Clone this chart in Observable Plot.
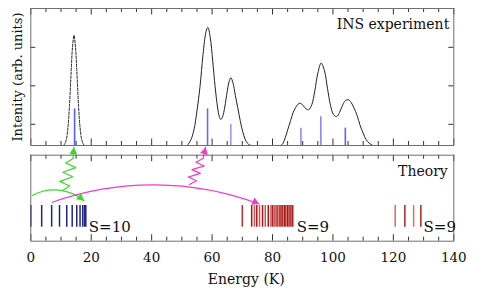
<!DOCTYPE html>
<html><head><meta charset="utf-8">
<script src="https://cdn.jsdelivr.net/npm/d3@7"></script>
<script src="https://cdn.jsdelivr.net/npm/@observablehq/plot@0.6"></script>
<style>
body{margin:0;background:#fff}
#c{position:relative;width:491px;height:295px}
#c svg{position:absolute;left:0}
#c svg, #c svg text{font-family:"DejaVu Serif", serif !important}
</style>
</head><body><div id="c"></div>
<script>
// ---------- data ----------
const baseline = 0.45;            // INS background level
const yTicks = [1, 2, 3];
const xLabels = [0, 20, 40, 60, 80, 100, 120, 140];
const xMinor = [5, 10, 15, 25, 30, 35, 45, 50, 55, 65, 70, 75, 85, 90, 95, 105, 110, 115, 125, 130, 135];

// INS curve, first (dashed) peak
const ins1E = [10.8, 11.3, 11.8, 12.3, 12.8, 13.3, 13.8, 14.3, 14.8, 15.3, 15.8, 16.3, 16.8, 17.3, 17.8];
const ins1I = [0.45, 0.50, 0.62, 0.92, 1.48, 2.27, 3.00, 3.31, 3.00, 2.27, 1.48, 0.92, 0.62, 0.50, 0.45];
// INS curve, 58/66 K doublet
const ins2E = [52, 53, 54, 55, 56, 57, 58, 58.6, 59.4, 60.2, 61.0, 61.8, 62.4, 62.9, 63.5, 64.2, 65.0, 65.6, 66.2, 66.9, 67.7, 68.5, 69.3, 70.1, 70.9, 71.7, 72.5, 73.3];
const ins2I = [0.47, 0.60, 0.86, 1.35, 1.98, 2.81, 3.41, 3.52, 3.25, 2.65, 1.98, 1.45, 1.20, 1.125, 1.20, 1.45, 1.85, 2.10, 2.21, 2.08, 1.75, 1.43, 1.10, 0.82, 0.62, 0.51, 0.46, 0.45];
// INS curve, 89/96/105 K triplet
const ins3E = [82.8, 83.5, 84.2, 85.0, 86.0, 86.8, 87.6, 88.4, 89.2, 90.1, 91.1, 92.0, 93.0, 94.0, 95.0, 96.1, 97.2, 98.2, 99.2, 100.2, 101.2, 102.2, 103.2, 104.2, 105.1, 106.0, 107.0, 108.0, 109.0, 110.0, 111.0, 112.0, 113.0];
const ins3I = [0.45, 0.51, 0.65, 0.85, 1.10, 1.30, 1.43, 1.52, 1.55, 1.49, 1.40, 1.38, 1.51, 1.87, 2.33, 2.59, 2.39, 1.93, 1.49, 1.25, 1.20, 1.31, 1.50, 1.62, 1.64, 1.57, 1.42, 1.23, 0.97, 0.77, 0.60, 0.51, 0.46];

// calculated INS transitions (blue sticks)
const stickE = [14.5, 58.5, 66.2, 89.4, 96.0, 104.1];
const stickI = [1.40, 1.40, 1.00, 0.90, 1.20, 0.90];
const stickShade = [0.85, 0.75, 0.35, 0.45, 0.5, 0.8];

// theory energy levels
const s10E = [0, 3.6, 6.9, 9.5, 11.9, 13.7, 15.2, 16.3, 17.2, 17.8, 18.2];
const s9aE = [70.0, 73.1, 74.0, 74.8, 75.7, 76.7, 77.6, 78.6, 79.5, 80.1, 80.8, 81.5, 82.2, 82.8, 83.3, 83.9, 84.4, 85.0, 85.5, 86.1, 86.7];
const s9aShade = [0.8, 1, 0.5, 1, 0.5, 1, 0.5, 1, 0.6, 1, 0.7, 1, 0.8, 1, 0.8, 1, 0.8, 1, 0.8, 1, 0.9];
const s9bE = [120.6, 123.8, 126.7, 129.1];
const s9bShade = [0.35, 0.9, 0.3, 0.9];
const levelLow = 14, levelHigh = 35.7;

const labels = [
  {text: "S=10", e: 19.2, v: 9},
  {text: "S=9", e: 88.0, v: 9},
  {text: "S=9", e: 130.0, v: 9}
];

// annotation arrows (energy, level units); ang = head direction on screen, degrees
const arcs = [
  {x1: 0.5, y1: 45.7, x2: 17.6, y2: 40.5, bend: 34, ang: 40, c: "#3fd62e"},
  {x1: 7.1, y1: 39.0, x2: 75.6, y2: 37.2, bend: 20, ang: 24, c: "#f23cc4"}
];
const photons = [
  {x0: 10.5, y0: 50.7, x1: 14.0, y1: 82.7, tx: 14.25, ty: 94, amp: 1.9, ang: -86, c: "#3fd62e"},
  {x0: 52.5, y0: 56.7, x1: 57.0, y1: 82.7, tx: 57.85, ty: 94, amp: 1.7, ang: -77, c: "#f23cc4"}
];

// ---------- build ----------
const mk = (E, I, g) => E.map((e, k) => ({e, i: I[k], g}));
const curveDashed = mk(ins1E, ins1I, 1);
const curveSolid = [...mk(ins2E, ins2I, 2), ...mk(ins3E, ins3I, 3)];
const sticks = stickE.map((e, k) => ({e, i: stickI[k], s: stickShade[k]}));
const blueShade = d3.interpolateRgb("#c4c4ff", "#4a4af0");
const redShade = d3.interpolateRgb("#e59a9a", "#aa1515");

const levels = [
  ...s10E.map(e => ({e, c: "#1e2488"})),
  ...s9aE.map((e, k) => ({e, c: redShade(s9aShade[k])})),
  ...s9bE.map((e, k) => ({e, c: redShade(s9bShade[k])}))
];

function zig(p, n) {
  const pts = [{x: p.x0, y: p.y0}];
  for (let k = 1; k <= n; k++) {
    const t = k / (n + 1);
    pts.push({x: p.x0 + (p.x1 - p.x0) * t + (k % 2 ? p.amp : -p.amp), y: p.y0 + (p.y1 - p.y0) * t});
  }
  pts.push({x: p.x1, y: p.y1});
  return pts;
}

// filled triangular head at (x, y) pointing along ang
const headR = 3;
const tipOff = 2 / 3 * Math.sqrt(Math.PI * headR * headR * 4 / Math.sqrt(3)) * Math.sqrt(3) / 2;
function head(x, y, ang, c) {
  const a = ang * Math.PI / 180;
  return Plot.dot([{x, y}], {x: "x", y: "y", symbol: "triangle", r: headR, fill: c, stroke: null,
    rotate: ang + 90, dx: -Math.cos(a) * tipOff, dy: -Math.sin(a) * tipOff});
}

const style = {fontFamily: "DejaVu Serif", fontSize: "13.5px", background: "transparent", overflow: "visible", color: "#111"};
const W = 491, mL = 30.3, mR = 37.7;
const tickColor = "#333";

function edgeTicks(fh) {
  return [
    Plot.ruleX(xMinor, {insetTop: fh - 4, stroke: tickColor}),
    Plot.ruleX(xMinor, {insetBottom: fh - 4, stroke: tickColor}),
    Plot.ruleX(xLabels, {insetTop: fh - 6.5, stroke: tickColor}),
    Plot.ruleX(xLabels, {insetBottom: fh - 6.5, stroke: tickColor})
  ];
}

// top panel
const topH = 146, topMT = 8, topMB = 1;
const topFH = topH - topMT - topMB;
const fw = W - mL - mR;
const topPlot = Plot.plot({
  width: W, height: topH, marginTop: topMT, marginBottom: topMB, marginLeft: mL, marginRight: mR,
  x: {domain: [0, 140], axis: null},
  y: {domain: [baseline, baseline + topFH / 38.5], axis: null},
  style,
  marks: [
    Plot.ruleX(sticks, {x: "e", y1: baseline, y2: "i", stroke: d => blueShade(d.s), strokeWidth: 1.6}),
    Plot.line(curveDashed, {x: "e", y: "i", stroke: "#222", strokeWidth: 1, strokeDasharray: "2.5,1.5", curve: "catmull-rom"}),
    Plot.line(curveSolid, {x: "e", y: "i", z: "g", stroke: "#222", strokeWidth: 1, curve: "catmull-rom"}),
    ...edgeTicks(topFH),
    Plot.ruleY(yTicks, {insetRight: fw - 5, stroke: tickColor}),
    Plot.ruleY(yTicks, {insetLeft: fw - 5, stroke: tickColor}),
    Plot.frame({stroke: "#6f6f6f"}),
    Plot.text(["INS experiment"], {x: 138.5, y: baseline + (145 - 28.3) / 38.5, textAnchor: "end", lineAnchor: "bottom", fontSize: 14}),
    Plot.text(["Intenity (arb. units)"], {frameAnchor: "left", textAnchor: "middle", rotate: -90, dx: -12.8, fontSize: 13})
  ]
});
topPlot.style.top = "0px";

// bottom panel
const botTop = 145, botH = 150, botMT = 9.7, botMB = 54.3;
const botFH = botH - botMT - botMB;
const botPlot = Plot.plot({
  width: W, height: botH, marginTop: botMT, marginBottom: botMB, marginLeft: mL, marginRight: mR,
  x: {domain: [0, 140]},
  y: {domain: [0, botFH], axis: null},
  style,
  marks: [
    Plot.ruleX(levels, {x: "e", y1: levelLow, y2: levelHigh, stroke: "c", strokeWidth: 1.5}),
    ...edgeTicks(botFH),
    Plot.frame({stroke: "#6f6f6f"}),
    Plot.axisX({ticks: xLabels, tickSize: 0, tickPadding: 11.4, label: null, fontSize: 13.5}),
    Plot.text(["Energy (K)"], {frameAnchor: "bottom", dy: 42.8, dx: 4, lineAnchor: "bottom", fontSize: 14}),
    Plot.text(labels, {x: "e", y: "v", text: "text", textAnchor: "start", lineAnchor: "bottom", fontSize: 15}),
    Plot.text(["Theory"], {x: 138, y: 65, textAnchor: "end", lineAnchor: "bottom", fontSize: 14}),
    ...arcs.map(a => Plot.arrow([a], {x1: "x1", y1: "y1", x2: "x2", y2: "y2", bend: a.bend, stroke: a.c, strokeWidth: 1.2, headLength: 0})),
    ...arcs.map(a => head(a.x2, a.y2, a.ang, a.c)),
    ...photons.map(p => Plot.line([...zig(p, 6), {x: p.tx, y: p.ty}], {x: "x", y: "y", stroke: p.c, strokeWidth: 1.2})),
    ...photons.map(p => head(p.tx, p.ty, p.ang, p.c))
  ]
});
botPlot.style.top = botTop + "px";

const c = document.getElementById("c");
c.appendChild(topPlot);
c.appendChild(botPlot);
</script>
</body></html>
